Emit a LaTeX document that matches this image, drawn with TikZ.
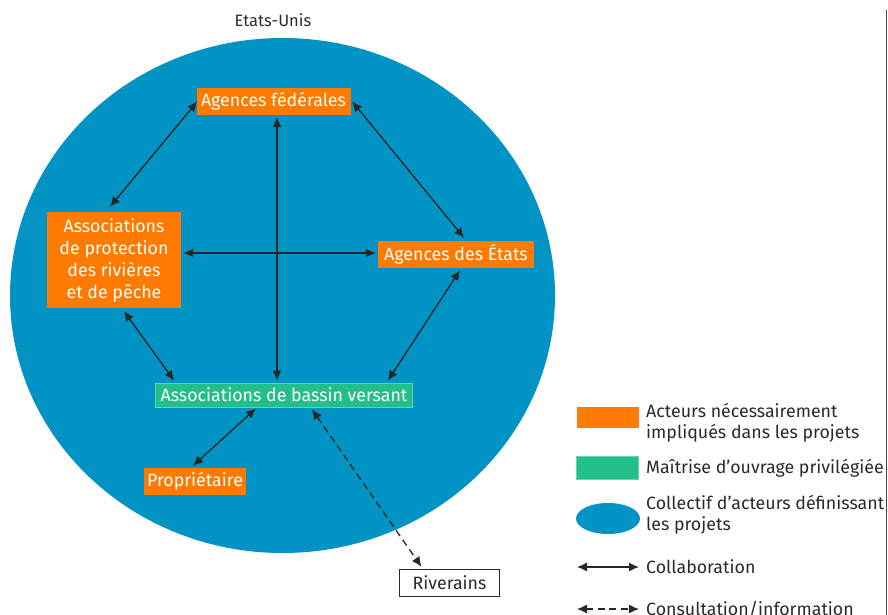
\documentclass[tikz,border=0pt]{standalone}
\usepackage{fontspec}
\setmainfont{Fira Sans}
\usetikzlibrary{arrows.meta,calc,shapes.geometric}
\definecolor{bleu}{HTML}{0093C4}
\definecolor{orangeC}{HTML}{FF7A00}
\definecolor{vert}{HTML}{22BF8A}
\definecolor{texte}{HTML}{2A2A2A}
\begin{document}
\begin{tikzpicture}[x=1pt,y=-1pt,
  boxtxt/.style={inner sep=0pt, text=white, align=center, font=\fontsize{17.8}{22}\selectfont},
  acteur/.style={boxtxt, fill=orangeC},
  maitrise/.style={boxtxt, fill=vert, draw=vert!70!white, line width=0.8pt},
  exterieur/.style={inner sep=0pt, fill=white, draw=texte, line width=1.3pt, text=texte, font=\fontsize{17.8}{22}\selectfont},
  legtext/.style={inner sep=0pt, anchor=west, align=left, text=texte, font=\fontsize{17.8}{21}\selectfont},
  collab/.style={line width=1.3pt, texte!90!black, {Latex[length=10pt,width=9pt]}-{Latex[length=10pt,width=9pt]}},
  consult/.style={collab, dash pattern=on 7pt off 4.5pt}]
\useasboundingbox (0,0) rectangle (888,615);
% frame line at right
\draw[line width=1.4pt, texte!85] (886.5,10) -- (886.5,615);
% title
\node[text=texte, font=\fontsize{16.5}{20}\selectfont, inner sep=0pt] (titre) at (273,20) {Etats-Unis};
% collective
\fill[bleu] (282.5,295.5) ellipse [x radius=272.5, y radius=257.5];
% nodes
\node[acteur, minimum width=154pt, minimum height=27pt] (fed) at (273.5,101.5) {Agences fédérales};
\node[acteur, minimum width=134pt, minimum height=96pt] (prot) at (114,260) {Associations\\de protection\\des rivières\\et de pêche};
\node[acteur, minimum width=156pt, minimum height=27pt] (etats) at (456,254.5) {Agences des États};
\node[maitrise, minimum width=257pt, minimum height=24pt] (bassin) at (284,395) {Associations de bassin versant};
\node[acteur, minimum width=102pt, minimum height=27pt] (prop) at (195,481.5) {Propriétaire};
\node[exterieur, minimum width=100pt, minimum height=27pt] (riv) at (449.5,583) {Riverains};
% connectors
\draw[collab] ($(fed.west)+(1,0)$) -- ($(prot.north)+(-4,-5)$);
\draw[collab] ($(fed.east)+(1.5,0)$) -- ($(etats.north)+(8,-3)$);
\draw[collab] ($(fed.south)+(3.5,2)$) -- ($(bassin.north)+(-7,-2)$);
\draw[collab] ($(prot.east)+(2,-7)$) -- ($(etats.west)+(-2,-1.5)$);
\draw[collab] ($(prot.south)+(10,3)$) -- ($(bassin.north west)+(19,-2)$);
\draw[collab] ($(etats.south)+(4,2)$) -- ($(bassin.north east)+(-25,-2)$);
\draw[collab] ($(bassin.south)+(-28,1)$) -- ($(prop.north)+(-2,-2)$);
\draw[consult] ($(bassin.south)+(28,2)$) -- ($(riv.north)+(-28,-2)$);
% legend
\node[fill=orangeC, minimum width=62pt, minimum height=21pt, inner sep=0pt] (lorange) at (607.5,417.5) {};
\node[legtext] (torange) at (646,422.5) {Acteurs nécessairement\\impliqués dans les projets};
\node[fill=vert, draw=vert!70!white, line width=0.8pt, minimum width=62pt, minimum height=23pt, inner sep=0pt] (lvert) at (607.5,468) {};
\node[legtext] (tvert) at (646,468) {Maîtrise d’ouvrage privilégiée};
\node[fill=bleu, ellipse, minimum width=64pt, minimum height=31pt, inner sep=0pt] (lbleu) at (608,518.5) {};
\node[legtext] (tbleu) at (646,515) {Collectif d’acteurs définissant\\les projets};
\coordinate (ca) at (577,567);
\coordinate (cb) at (639,567);
\draw[collab] (ca) -- (cb);
\node[legtext] (tcollab) at (646,567) {Collaboration};
\coordinate (da) at (577,609);
\coordinate (db) at (639,609);
\draw[consult] (da) -- (db);
\node[legtext] (tconsult) at (646,609) {Consultation/information};
\end{tikzpicture}
\end{document}
